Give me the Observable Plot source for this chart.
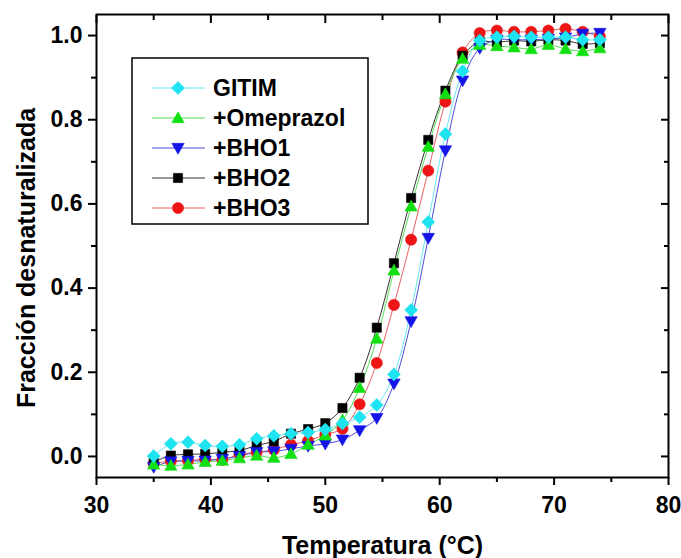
<!DOCTYPE html>
<html><head><meta charset="utf-8">
<script src="https://cdn.jsdelivr.net/npm/d3@7"></script>
<script src="https://cdn.jsdelivr.net/npm/@observablehq/plot@0.6"></script>
<style>
body{margin:0;background:#fff;}
#wrap{position:relative;width:681px;height:558px;}
#wrap text{font-weight:bold;}
</style></head><body><div id="wrap"></div>
<script>
// ---- data ----
const temps = [35,36.5,38,39.5,41,42.5,44,45.5,47,48.5,50,51.5,53,54.5,56,57.5,59,60.5,62,63.5,65,66.5,68,69.5,71,72.5,74];
const gitim     = [0.001,0.030,0.034,0.026,0.024,0.028,0.042,0.049,0.054,0.057,0.064,0.078,0.093,0.122,0.195,0.348,0.557,0.766,0.915,0.988,0.996,0.998,0.996,0.996,0.996,0.990,0.990];
const omeprazol = [-0.019,-0.022,-0.019,-0.013,-0.010,-0.004,0.002,-0.003,0.006,0.028,0.050,0.086,0.163,0.280,0.442,0.594,0.736,0.861,0.945,0.978,0.975,0.972,0.968,0.978,0.968,0.963,0.970];
const bho1      = [-0.025,-0.012,-0.011,-0.010,-0.006,0.001,0.010,0.012,0.018,0.025,0.030,0.040,0.062,0.091,0.173,0.321,0.519,0.727,0.893,0.970,0.990,0.990,0.990,0.992,0.995,1.004,1.006];
const bho2      = [-0.013,0.002,0.005,0.006,0.010,0.014,0.026,0.036,0.054,0.065,0.079,0.115,0.187,0.306,0.459,0.614,0.752,0.869,0.952,0.985,0.984,0.988,0.986,0.990,0.988,0.980,0.982];
const bho3      = [-0.017,-0.011,-0.010,-0.006,-0.008,0.005,0.010,0.016,0.028,0.037,0.052,0.066,0.124,0.222,0.360,0.515,0.679,0.843,0.960,1.006,1.012,1.009,1.009,1.012,1.016,1.009,0.998];

const seriesNames = ["GITIM","+Omeprazol","+BHO1","+BHO2","+BHO3"];
const xMajor = [30,40,50,60,70,80];
const xMinor = [35,45,55,65,75];
const yMajor = [0,0.2,0.4,0.6,0.8,1.0];
const yMinor = [0.1,0.3,0.5,0.7,0.9];
const xTitle = "Temperatura (°C)";
const yTitle = "Fracción desnaturalizada";

// ---- symbols ----
const mkDiamond = h => ({draw(c){c.moveTo(0,-h);c.lineTo(h,0);c.lineTo(0,h);c.lineTo(-h,0);c.closePath();}});
const mkSquare = h => ({draw(c){c.moveTo(-h,-h);c.lineTo(h,-h);c.lineTo(h,h);c.lineTo(-h,h);c.closePath();}});
const mkTriUp = h => ({draw(c){c.moveTo(0,-h);c.lineTo(h*1.0,h*0.75);c.lineTo(-h*1.0,h*0.75);c.closePath();}});
const mkTriDown = h => ({draw(c){c.moveTo(0,h);c.lineTo(h*1.0,-h*0.75);c.lineTo(-h*1.0,-h*0.75);c.closePath();}});
const mkCircle = r => ({draw(c){c.moveTo(r,0);c.arc(0,0,r,0,2*Math.PI);c.closePath();}});

const styles = [
  {values: gitim,     fill:"#1ee3f0", line:"#66e8f2", sym: mkDiamond(6.5)},
  {values: omeprazol, fill:"#12e012", line:"#55dd55", sym: mkTriUp(6.2)},
  {values: bho1,      fill:"#1414e6", line:"#4a4ad8", sym: mkTriDown(6.2)},
  {values: bho2,      fill:"#000000", line:"#333333", sym: mkSquare(4.6)},
  {values: bho3,      fill:"#ec1414", line:"#e86060", sym: mkCircle(5.6)}
];

const rows = styles.map((s,i) => temps.map((t,j) => ({t, v: s.values[j], name: seriesNames[i]})));

const marks = [];
for (let i = styles.length - 1; i >= 0; i--) {
  const s = styles[i];
  marks.push(Plot.line(rows[i], {x:"t", y:"v", stroke: s.line, strokeWidth: 1, curve: "catmull-rom"}));
}
for (let i = styles.length - 1; i >= 0; i--) {
  const s = styles[i];
  marks.push(Plot.dot(rows[i], {x:"t", y:"v", symbol: s.sym, r: 5, fill: s.fill, stroke: s.fill, strokeWidth: 0.6}));
}

const chart = Plot.plot({
  width: 681, height: 558,
  marginLeft: 96, marginRight: 13, marginTop: 14, marginBottom: 81,
  style: {fontFamily: "'Liberation Sans', Arial, sans-serif", fontSize: "23px", fontWeight: "bold", color: "#000", background: "#fff", overflow: "visible"},
  x: {domain: [30, 80]},
  y: {domain: [-0.05, 1.05]},
  marks: [
    ...marks,
    Plot.axisX({ticks: xMajor, tickSize: 8, fill: "none", label: null, strokeWidth: 2}),
    Plot.axisX({ticks: xMinor, tickSize: 5, fill: "none", label: null, strokeWidth: 2}),
    Plot.axisX({anchor: "top", ticks: xMajor, tickSize: -8, fill: "none", label: null, strokeWidth: 2}),
    Plot.axisX({anchor: "top", ticks: xMinor, tickSize: -5, fill: "none", label: null, strokeWidth: 2}),
    Plot.text(xMajor, {x: d => d, text: d => String(d), frameAnchor: "bottom", dy: 28, textAnchor: "middle", lineAnchor: "middle", fontSize: 23, fontWeight: "bold"}),
    Plot.axisY({ticks: yMajor, tickSize: 8, tickPadding: 6, tickFormat: d3.format(".1f"), label: null, strokeWidth: 2, fontSize: 23, fontWeight: "bold"}),
    Plot.axisY({ticks: yMinor, tickSize: 5, fill: "none", label: null, strokeWidth: 2}),
    Plot.axisY({anchor: "right", ticks: yMajor, tickSize: -8, fill: "none", label: null, strokeWidth: 2}),
    Plot.axisY({anchor: "right", ticks: yMinor, tickSize: -5, fill: "none", label: null, strokeWidth: 2}),
    Plot.frame({stroke: "#000", strokeWidth: 2}),
    Plot.text([xTitle], {text: d => d, frameAnchor: "bottom", dy: 68, textAnchor: "middle", lineAnchor: "middle", fontSize: 25, fontWeight: "bold"}),
    Plot.text([yTitle], {text: d => d, frameAnchor: "left", dx: -70, dy: 12, rotate: -90, textAnchor: "middle", lineAnchor: "middle", fontSize: 25, fontWeight: "bold"})
  ]
});
document.getElementById("wrap").appendChild(chart);

// ---- legend (inside plot area, upper left) ----
const leg = d3.select("#wrap").append("svg")
  .attr("width", 681).attr("height", 558)
  .style("position", "absolute").style("left", "0px").style("top", "0px");
leg.append("rect").attr("x", 132).attr("y", 58).attr("width", 236).attr("height", 166)
  .attr("fill", "#fff").attr("stroke", "#000").attr("stroke-width", 1.5);
seriesNames.forEach((name, i) => {
  const s = styles[i];
  const y = 88 + i * 30;
  const g = leg.append("g");
  g.append("line").attr("x1", 152).attr("x2", 205).attr("y1", y).attr("y2", y)
    .attr("stroke", s.line).attr("stroke-width", 1);
  const p = d3.path(); s.sym.draw(p);
  g.append("path").attr("d", p.toString()).attr("transform", `translate(178,${y})`)
    .attr("fill", s.fill).attr("stroke", s.fill).attr("stroke-width", 0.6);
  g.append("text").attr("x", 213).attr("y", y).attr("dy", "0.36em")
    .attr("font-family", "'Liberation Sans', Arial, sans-serif")
    .attr("font-weight", "bold").attr("font-size", 23).attr("fill", "#000")
    .text(name);
});
</script>
</body></html>
